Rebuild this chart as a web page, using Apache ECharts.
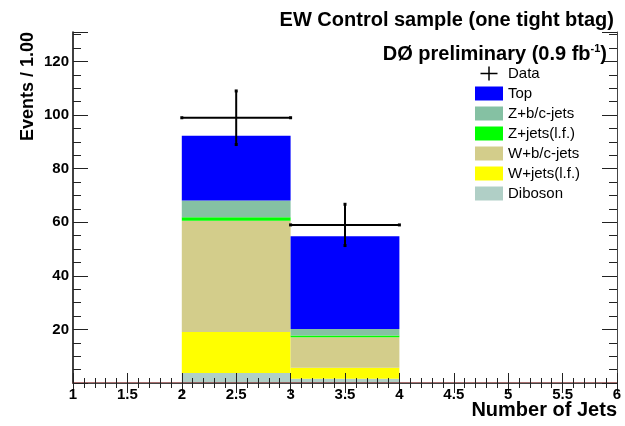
<!DOCTYPE html>
<html><head><meta charset="utf-8">
<script src="https://cdn.jsdelivr.net/npm/echarts@6/dist/echarts.min.js"></script>
<style>html,body{margin:0;padding:0;background:#fff}#c{width:625px;height:426px}</style>
</head><body><div id="c"></div>
<script>
// ---- data ----
const binLow  = [2, 3];
const binHigh = [3, 4];
const diboson = [3.7, 1.6];
const wjetsLF = [15.3, 4.1];
const wbcJets = [41.6, 11.4];
const zjetsLF = [1.3, 0.6];
const zbcJets = [6.2, 2.5];
const topQ    = [24.2, 34.6];
const dataX    = [2.5, 3.5];
const dataY    = [99, 59];
const dataYErr = [10, 7.7];
const dataXErr = [0.5, 0.5];
const xMin = 1, xMax = 6, xStep = 0.5;
const yMin = 0, yMax = 131, yStep = 20;
const legendNames = ['Data', 'Top', 'Z+b/c-jets', 'Z+jets(l.f.)', 'W+b/c-jets', 'W+jets(l.f.)', 'Diboson'];

const FONT = 'Liberation Sans, Arial, Helvetica, sans-serif';

// stack order bottom -> top
const stack = [
  { name: 'Diboson',      values: diboson, color: '#b0cfc6' },
  { name: 'W+jets(l.f.)', values: wjetsLF, color: '#ffff00' },
  { name: 'W+b/c-jets',   values: wbcJets, color: '#d3cd8b' },
  { name: 'Z+jets(l.f.)', values: zjetsLF, color: '#00ff00' },
  { name: 'Z+b/c-jets',   values: zbcJets, color: '#85c1a3' },
  { name: 'Top',          values: topQ,    color: '#0000ff' }
];

function renderBar(params, api) {
  const p0 = api.coord([api.value(0), api.value(3)]);
  const p1 = api.coord([api.value(1), api.value(2)]);
  return { type: 'rect',
    shape: { x: p0[0], y: p0[1], width: p1[0] - p0[0], height: p1[1] - p0[1] },
    style: { fill: api.visual('color') } };
}

function renderData(params, api) {
  const x = api.value(0), y = api.value(1), ex = api.value(2), ey = api.value(3);
  const l = api.coord([x - ex, y]), r = api.coord([x + ex, y]);
  const t = api.coord([x, y + ey]), b = api.coord([x, y - ey]);
  const st = { stroke: '#000', lineWidth: 2 };
  const cap = (p) => ({ type: 'rect', shape: { x: p[0] - 1.5, y: p[1] - 1.5, width: 3, height: 3 }, style: { fill: '#000' } });
  return { type: 'group', children: [
    { type: 'line', shape: { x1: l[0], y1: l[1], x2: r[0], y2: r[1] }, style: st },
    { type: 'line', shape: { x1: t[0], y1: t[1], x2: b[0], y2: b[1] }, style: st },
    cap(l), cap(r), cap(t), cap(b)
  ] };
}

const series = [];
const base = binLow.map(() => 0);
stack.forEach(s => {
  const d = s.values.map((v, i) => {
    const item = [binLow[i], binHigh[i], base[i], base[i] + v];
    base[i] += v;
    return item;
  });
  series.push({ name: s.name, type: 'custom', renderItem: renderBar, data: d,
    itemStyle: { color: s.color }, encode: { x: [0, 1], y: [2, 3] }, z: 2 });
});
series.push({ name: 'Data', type: 'custom', renderItem: renderData,
  data: dataX.map((x, i) => [x, dataY[i], dataXErr[i], dataYErr[i]]),
  itemStyle: { color: '#000' }, encode: { x: 0, y: 1 }, z: 3 });

const plusIcon = 'path://M0,6.25h17v1.5h-17z M7.75,0h1.5v14h-1.5z';

const tickStyle = { color: '#222', width: 1 };
const option = {
  animation: false,
  backgroundColor: '#fff',
  title: { text: 'EW Control sample (one tight btag)', right: 6, top: 5,
    textStyle: { fontFamily: FONT, fontSize: 20, fontWeight: 'bold', color: '#000' } },
  legend: {
    orient: 'vertical', left: 470, top: 61, itemWidth: 28, itemHeight: 14, itemGap: 5,
    icon: 'rect', selectedMode: false,
    textStyle: { fontFamily: FONT, fontSize: 15, color: '#000', lineHeight: 14 },
    data: legendNames.map(n => n === 'Data' ? { name: n, icon: plusIcon } : n)
  },
  grid: { left: 73, right: 8, top: 32, bottom: 43 },
  xAxis: [
    { type: 'value', min: xMin, max: xMax, interval: xStep, position: 'bottom', z: 5,
      axisLine: { show: true, lineStyle: { color: '#8b3f3f', width: 1.5 } },
      axisTick: { show: true, inside: true, length: 10, lineStyle: tickStyle },
      minorTick: { show: true, splitNumber: 5, length: 5, lineStyle: tickStyle },
      axisLabel: { margin: 4, fontFamily: FONT, fontSize: 15, fontWeight: 'bold', color: '#000' },
      splitLine: { show: false } },
    { type: 'value', min: xMin, max: xMax, interval: xStep, position: 'top', z: 5,
      axisLine: { show: true, lineStyle: { color: '#444', width: 1 } },
      axisTick: { show: true, inside: true, length: 10, lineStyle: tickStyle },
      minorTick: { show: true, splitNumber: 5, length: 5, lineStyle: tickStyle },
      axisLabel: { show: false }, splitLine: { show: false } }
  ],
  yAxis: [
    { type: 'value', min: yMin, max: yMax, interval: yStep, position: 'left', z: 5,
      axisLine: { show: true, lineStyle: { color: '#000', width: 1.5 } },
      axisTick: { show: true, inside: true, length: 15, lineStyle: tickStyle },
      minorTick: { show: true, splitNumber: 4, length: 8, lineStyle: tickStyle },
      axisLabel: { margin: 4, fontFamily: FONT, fontSize: 15, fontWeight: 'bold', color: '#000',
        showMaxLabel: false,
        formatter: v => (v === 0 || v > 120) ? '' : String(v) },
      splitLine: { show: false } },
    { type: 'value', min: yMin, max: yMax, interval: yStep, position: 'right', z: 5,
      axisLine: { show: true, lineStyle: { color: '#444', width: 1 } },
      axisTick: { show: true, inside: true, length: 15, lineStyle: tickStyle },
      minorTick: { show: true, splitNumber: 4, length: 8, lineStyle: tickStyle },
      axisLabel: { show: false }, splitLine: { show: false } }
  ],
  graphic: [
    { type: 'text', right: 18, top: 43, z: 10,
      style: { text: '{a|DØ preliminary (0.9 fb}{s|-1}{a|)}', fill: '#000',
        rich: { a: { fontFamily: FONT, fontSize: 20, fontWeight: 'bold', lineHeight: 22 },
                s: { fontFamily: FONT, fontSize: 11, fontWeight: 'bold', lineHeight: 22, verticalAlign: 'top' } } } },
    { type: 'text', right: 8, top: 400, z: 10,
      style: { text: 'Number of Jets', fill: '#000', font: 'bold 20px ' + FONT } },
    { type: 'text', x: 28, y: 32, rotation: Math.PI / 2, z: 10,
      style: { text: 'Events / 1.00', fill: '#000', font: 'bold 18px ' + FONT, align: 'right', verticalAlign: 'middle' } }
  ],
  series: series
};
const chart = echarts.init(document.getElementById('c'), null, { renderer: 'canvas' });
chart.setOption(option);
</script></body></html>
